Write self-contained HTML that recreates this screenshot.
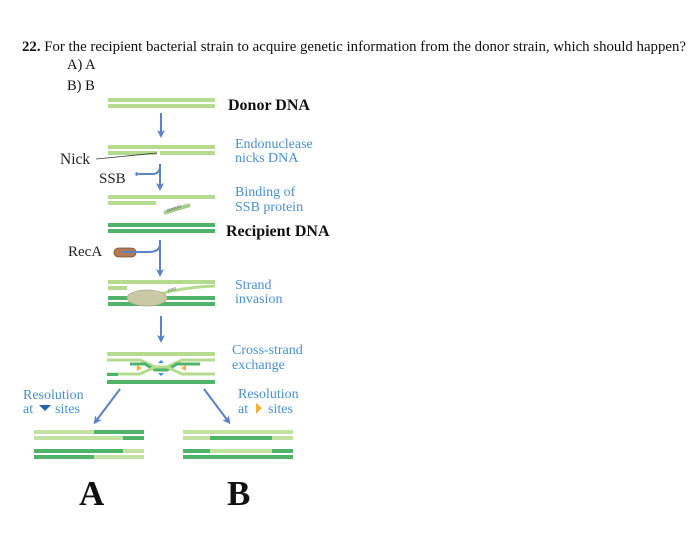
<!DOCTYPE html>
<html><head><meta charset="utf-8"><style>
body{margin:0;background:#fff;}
svg text{font-family:"Liberation Serif",serif;}
</style></head><body>
<svg width="700" height="545" viewBox="0 0 700 545" xmlns="http://www.w3.org/2000/svg">
<defs>
<marker id="ah" markerWidth="8" markerHeight="8" refX="4" refY="4" orient="auto" markerUnits="userSpaceOnUse">
<path d="M0,0 L8,4 L0,8 L2,4 Z" fill="#5b82c4"/></marker>
</defs>
<text x="22" y="51" font-size="14.8" fill="#111" textLength="664" lengthAdjust="spacingAndGlyphs"><tspan font-weight="bold">22.</tspan> For the recipient bacterial strain to acquire genetic information from the donor strain, which should happen?</text>
<text x="67" y="69" font-size="14.5" fill="#111">A) A</text>
<text x="67" y="90" font-size="14.5" fill="#111">B) B</text>

<!-- Donor DNA -->
<rect x="108" y="98" width="107" height="4" fill="#b5dc8e"/>
<rect x="108" y="104" width="107" height="4" fill="#b5dc8e"/>
<text x="228" y="110" font-size="16" font-weight="bold" fill="#111">Donor DNA</text>
<line x1="161" y1="113" x2="161" y2="134" stroke="#5b82c4" stroke-width="2" marker-end="url(#ah)"/>

<!-- Nick -->
<rect x="108" y="145" width="107" height="4" fill="#b5dc8e"/>
<rect x="108" y="151" width="49" height="4" fill="#b5dc8e"/>
<rect x="160" y="151" width="55" height="4" fill="#b5dc8e"/>
<text x="60" y="164" font-size="15.5" fill="#222">Nick</text>
<line x1="96" y1="159" x2="157" y2="153" stroke="#333" stroke-width="0.8"/>
<text x="235" y="148" font-size="14" fill="#4a8fd0">Endonuclease</text>
<text x="235" y="162" font-size="14" fill="#4a8fd0">nicks DNA</text>

<text x="99" y="183" font-size="15" fill="#222">SSB</text>
<circle cx="137" cy="174" r="1.8" fill="#5b82c4"/>
<path d="M139,174 L152,174 Q160,174 160,166" stroke="#5b82c4" stroke-width="2" fill="none"/>
<line x1="160" y1="164" x2="160" y2="187" stroke="#5b82c4" stroke-width="2" marker-end="url(#ah)"/>

<!-- Binding -->
<rect x="108" y="195" width="107" height="4" fill="#b5dc8e"/>
<rect x="108" y="201" width="48" height="4" fill="#b5dc8e"/>
<line x1="164" y1="213" x2="190" y2="205" stroke="#a8cf87" stroke-width="4"/>
<text x="167" y="212" font-size="6" fill="#567" transform="rotate(-17 167 212)">ooooo</text>
<text x="235" y="196" font-size="14" fill="#4a8fd0">Binding of</text>
<text x="235" y="211" font-size="14" fill="#4a8fd0">SSB protein</text>

<!-- Recipient -->
<rect x="108" y="223" width="107" height="4" fill="#4fb36a"/>
<rect x="108" y="229" width="107" height="4" fill="#4fb36a"/>
<text x="226" y="236" font-size="16" font-weight="bold" fill="#111">Recipient DNA</text>

<text x="68" y="256" font-size="15" fill="#222">RecA</text>
<rect x="114" y="248" width="22" height="9" rx="4.5" fill="#b07a55" stroke="#7a4f33" stroke-width="0.8"/>
<path d="M122,252 L148,252 Q160,252 160,244" stroke="#5b82c4" stroke-width="2" fill="none"/>
<line x1="160" y1="240" x2="160" y2="273" stroke="#5b82c4" stroke-width="2" marker-end="url(#ah)"/>

<!-- Strand invasion -->
<rect x="108" y="280" width="107" height="4" fill="#b5dc8e"/>
<rect x="108" y="286" width="19" height="4" fill="#b5dc8e"/>
<path d="M160,294 Q185,287 215,286" stroke="#b5dc8e" stroke-width="3" fill="none"/>
<rect x="108" y="296" width="107" height="4" fill="#4fb36a"/>
<rect x="108" y="302" width="107" height="4" fill="#4fb36a"/>
<ellipse cx="147" cy="298" rx="20" ry="8" fill="#c9c9a5" stroke="#aaa98a" stroke-width="0.8"/>
<text x="168" y="292" font-size="6" fill="#567" transform="rotate(-15 168 292)">ooo</text>
<text x="235" y="289" font-size="14" fill="#4a8fd0">Strand</text>
<text x="235" y="303" font-size="14" fill="#4a8fd0">invasion</text>
<line x1="161" y1="316" x2="161" y2="339" stroke="#5b82c4" stroke-width="2" marker-end="url(#ah)"/>

<!-- Cross strand -->
<rect x="107" y="352" width="108" height="4" fill="#b5dc8e"/>
<rect x="107" y="380" width="108" height="4" fill="#4fb36a"/>
<path d="M107,360 L140,360 L155,367 L167,367 L182,360 L215,360" stroke="#b5dc8e" stroke-width="3" fill="none"/>
<path d="M130,364 L145,364 L155,370 L167,370 L177,364 L200,364" stroke="#4fb36a" stroke-width="3" fill="none"/>
<path d="M107,374 L140,374 L155,367 L167,367 L182,374 L215,374" stroke="#b5dc8e" stroke-width="3" fill="none"/>
<rect x="107" y="373" width="11" height="3" fill="#4fb36a"/>
<path d="M137,365 l5,3 l-5,3 z" fill="#f0b23a"/>
<path d="M186,365 l-5,3 l5,3 z" fill="#f0b23a"/>
<path d="M158,363 l3,-3 l3,3 z M158,373 l3,3 l3,-3 z" fill="#3b8fd0"/>
<text x="232" y="354" font-size="14" fill="#4a8fd0">Cross-strand</text>
<text x="232" y="369" font-size="14" fill="#4a8fd0">exchange</text>

<line x1="120" y1="389" x2="96" y2="421" stroke="#5b82c4" stroke-width="2" marker-end="url(#ah)"/>
<line x1="204" y1="389" x2="228" y2="421" stroke="#5b82c4" stroke-width="2" marker-end="url(#ah)"/>
<text x="23" y="399" font-size="14" fill="#4a8fd0">Resolution</text>
<text x="23" y="413" font-size="14" fill="#4a8fd0">at</text>
<path d="M39,405 L51,405 L45,411 Z" fill="#1f64b0"/>
<text x="55" y="413" font-size="14" fill="#4a8fd0">sites</text>
<text x="238" y="398" font-size="14" fill="#4a8fd0">Resolution</text>
<text x="238" y="413" font-size="14" fill="#4a8fd0">at</text>
<path d="M256,403 L262,408 L256,414 Z" fill="#f0b23a"/>
<text x="268" y="413" font-size="14" fill="#4a8fd0">sites</text>

<!-- Result A -->
<rect x="34" y="430" width="60" height="4" fill="#c3e2a2"/>
<rect x="94" y="430" width="50" height="4" fill="#4fb36a"/>
<rect x="34" y="436" width="89" height="4" fill="#c3e2a2"/>
<rect x="123" y="436" width="21" height="4" fill="#4fb36a"/>
<rect x="34" y="449" width="89" height="4" fill="#4fb36a"/>
<rect x="123" y="449" width="21" height="4" fill="#c3e2a2"/>
<rect x="34" y="455" width="60" height="4" fill="#4fb36a"/>
<rect x="94" y="455" width="50" height="4" fill="#c3e2a2"/>
<!-- Result B -->
<rect x="183" y="430" width="110" height="4" fill="#c3e2a2"/>
<rect x="183" y="436" width="27" height="4" fill="#c3e2a2"/>
<rect x="210" y="436" width="62" height="4" fill="#4fb36a"/>
<rect x="272" y="436" width="21" height="4" fill="#c3e2a2"/>
<rect x="183" y="449" width="27" height="4" fill="#4fb36a"/>
<rect x="210" y="449" width="62" height="4" fill="#c3e2a2"/>
<rect x="272" y="449" width="21" height="4" fill="#4fb36a"/>
<rect x="183" y="455" width="110" height="4" fill="#4fb36a"/>

<text x="79" y="505" font-size="35" font-weight="bold" fill="#111">A</text>
<text x="227" y="505" font-size="35" font-weight="bold" fill="#111">B</text>
</svg>
</body></html>
